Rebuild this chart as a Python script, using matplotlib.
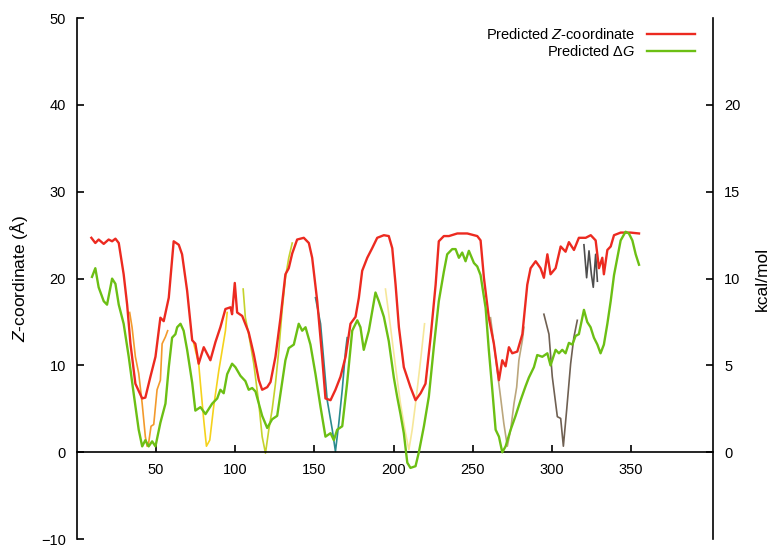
import matplotlib
matplotlib.use('Agg')
import matplotlib.pyplot as plt

plt.rcParams['font.family'] = ['Liberation Sans', 'DejaVu Sans']
plt.rcParams['mathtext.fontset'] = 'custom'
plt.rcParams['mathtext.rm'] = 'Liberation Sans'
plt.rcParams['mathtext.it'] = 'Liberation Sans:italic'

# predicted Z-coordinate along the sequence (Angstrom)
z_res = [9.1, 11.6, 13.7, 16.9, 20.0, 22.2, 24.3, 26.4, 29.5, 31.7, 33.8, 36.9, 41.2, 43.2,
         46.4, 49.6, 52.7, 54.8, 58.0, 61.1, 64.3, 66.4, 69.6, 72.8, 74.8, 76.9, 80.1,
         84.3, 87.5, 90.6, 93.8, 97.0, 98.0, 99.7, 101.2, 104.4, 108.5, 111.7, 114.9,
         117.0, 120.2, 122.3, 125.4, 128.6, 131.7, 133.8, 136.0, 139.1, 143.3, 146.5,
         148.6, 151.8, 154.9, 157.0, 160.2, 163.3, 166.5, 169.7, 172.8, 176.0, 178.1,
         180.2, 183.4, 186.5, 189.7, 193.9, 197.0, 199.2, 201.3, 203.4, 206.5, 210.7,
         213.9, 217.1, 220.2, 223.4, 226.6, 228.6, 231.8, 235.0, 240.3, 246.6, 252.9,
         255.0, 257.1, 260.2, 263.4, 266.6, 268.7, 270.8, 272.9, 275.0, 278.2, 281.4,
         284.5, 286.6, 289.8, 292.9, 295.0, 297.2, 299.2, 302.4, 305.6, 308.7, 310.8,
         314.0, 317.1, 321.4, 324.6, 327.7, 329.8, 331.9, 332.9, 335.1, 337.2, 339.3,
         343.5, 349.8, 355.1]
z_val = [24.7, 24.1, 24.5, 24.0, 24.5, 24.3, 24.6, 24.1, 20.5, 17.0, 12.5, 7.9, 6.2, 6.3,
         8.7, 11.0, 15.5, 15.1, 17.8, 24.3, 23.9, 22.8, 18.6, 12.9, 12.5, 10.2, 12.1,
         10.6, 12.7, 14.4, 16.5, 16.7, 15.9, 19.5, 16.1, 15.7, 13.8, 11.3, 8.3,
         7.2, 7.5, 8.1, 11.0, 15.5, 20.5, 21.2, 22.9, 24.5, 24.7, 24.1,
         22.4, 17.4, 11.0, 6.2, 6.0, 7.2, 8.7, 11.0, 14.8, 15.6, 17.8,
         20.9, 22.4, 23.5, 24.7, 25.0, 24.9, 23.5, 19.3, 14.4, 9.8, 7.5,
         6.0, 6.8, 7.9, 13.2, 19.3, 24.3, 24.9, 24.9, 25.2, 25.2, 24.9,
         24.4, 20.1, 15.5, 12.5, 8.3, 10.6, 9.9, 12.1, 11.4, 11.6, 13.6,
         19.3, 21.2, 22.0, 21.2, 20.1, 22.8, 20.5, 21.2, 23.7, 23.1, 24.2,
         23.3, 24.7, 24.7, 25.0, 24.4, 21.2, 22.4, 20.5, 23.3, 23.7, 25.0,
         25.3, 25.3, 25.2]

# predicted insertion energy (kcal/mol)
dg_res = [9.5, 11.6, 13.7, 16.9, 19.0, 22.2, 24.3, 26.4, 29.5, 32.7, 35.8, 39.0, 41.2, 43.2,
          45.3, 47.5, 49.6, 52.7, 55.9, 58.0, 60.1, 62.2, 63.3, 65.4, 67.4, 69.6, 72.8,
          74.8, 78.0, 81.2, 85.4, 88.6, 90.6, 92.7, 94.9, 98.0, 100.1, 103.3, 106.4,
          108.5, 110.7, 112.8, 114.9, 117.0, 120.2, 123.3, 126.5, 128.6, 131.7, 133.8,
          137.0, 140.1, 142.3, 144.4, 147.5, 150.7, 153.9, 157.0, 160.2, 162.3, 164.4,
          167.6, 170.7, 173.9, 177.1, 179.1, 181.2, 184.4, 188.6, 190.7, 193.9, 197.0,
          200.2, 202.3, 204.4, 206.5, 208.7, 210.7, 213.9, 216.0, 219.2, 222.3, 225.5,
          228.6, 231.8, 233.9, 237.1, 239.2, 241.3, 243.4, 245.5, 247.6, 250.8, 252.9,
          255.0, 258.2, 260.2, 262.4, 264.5, 266.6, 268.7, 270.8, 274.0, 277.1, 280.3,
          283.4, 285.5, 288.7, 290.8, 294.0, 297.2, 299.2, 302.4, 304.5, 306.6, 308.7,
          310.8, 313.0, 315.0, 317.1, 320.3, 322.4, 324.5, 326.6, 328.8, 330.8, 332.9,
          335.1, 337.2, 339.3, 341.4, 343.5, 346.6, 348.7, 350.9, 353.0, 355.1]
dg_val = [10.1, 10.6, 9.5, 8.7, 8.5, 10.0, 9.7, 8.5, 7.4, 5.5, 3.4, 1.3, 0.34, 0.7,
          0.34, 0.63, 0.34, 1.7, 2.8, 4.9, 6.6, 6.8, 7.2, 7.4, 7.0, 5.9, 4.0,
          2.4, 2.6, 2.2, 2.8, 3.1, 3.6, 3.4, 4.5, 5.1, 4.9, 4.4, 4.1,
          3.6, 3.7, 3.5, 2.8, 2.1, 1.4, 1.9, 2.1, 3.4, 5.3, 6.0,
          6.2, 7.4, 7.0, 7.2, 6.2, 4.5, 2.6, 0.9, 1.1, 0.7, 1.3,
          1.5, 4.0, 7.0, 7.6, 7.2, 5.9, 7.0, 9.2, 8.7, 7.8, 6.4,
          4.3, 3.2, 2.2, 1.1, -0.6, -0.9, -0.8, 0.0, 1.5, 3.2, 6.1,
          8.7, 10.4, 11.4, 11.7, 11.7, 11.2, 11.5, 11.0, 11.6, 10.9, 10.7,
          10.2, 8.3, 5.9, 3.6, 1.3, 0.9, 0.0, 0.34, 1.3, 2.1, 3.0,
          3.8, 4.3, 4.9, 5.6, 5.5, 5.7, 5.0, 5.9, 5.7, 5.9, 5.7,
          6.3, 6.2, 6.7, 6.8, 8.2, 7.5, 7.2, 6.6, 6.2, 5.7, 6.2,
          7.4, 8.7, 10.2, 11.2, 12.2, 12.7, 12.6, 12.2, 11.4, 10.8]

# individual helix segments (Angstrom)
seg_colors = ['#f39a2c', '#f5d21c', '#c5d22c', '#2b8b8e', '#f6e79a', '#bba67c', '#6f6052', '#4d4d4d']
seg_res = [
    [33.3, 34.8, 36.9, 39.0, 41.2, 43.2, 44.3, 45.3, 46.8, 48.5, 50.6, 52.7, 53.8, 55.9, 57.3],
    [73.8, 76.9, 78.0, 80.1, 81.8, 83.9, 86.4, 89.6, 91.7, 93.8, 94.9],
    [105.0, 106.4, 108.5, 111.7, 114.9, 117.0, 119.1, 121.2, 123.3, 125.4, 127.5, 129.6, 131.7,
     133.8, 136.0],
    [150.7, 153.9, 158.1, 161.3, 163.3, 165.4, 167.6, 169.7, 170.7],
    [194.9, 198.1, 201.3, 204.4, 207.6, 209.7, 211.8, 213.9, 217.1, 219.6],
    [261.3, 263.4, 265.5, 267.6, 269.7, 271.9, 274.0, 276.1, 277.8, 279.2, 281.4, 282.4],
    [295.0, 298.2, 300.3, 303.5, 305.6, 307.3, 309.4, 311.9, 313.9, 316.1],
    [320.3, 322.0, 323.5, 325.0, 326.2, 327.7, 328.8],
]
seg_val = [
    [16.1, 14.4, 11.0, 9.1, 5.6, 1.8, 0.7, 1.1, 3.0, 3.2, 7.2, 8.3, 12.5, 13.3, 14.0],
    [12.5, 10.2, 7.9, 3.7, 0.7, 1.4, 5.3, 9.4, 11.7, 14.0, 16.1],
    [18.8, 15.5, 13.6, 10.2, 5.6, 1.8, -0.1, 2.6, 4.9, 7.9, 11.7, 16.3, 20.1, 22.4, 24.1],
    [17.8, 14.8, 6.0, 2.6, 0.1, 3.3, 7.2, 11.7, 13.2],
    [18.8, 14.4, 9.8, 5.6, 2.2, 0.3, 2.6, 5.6, 10.6, 14.8],
    [15.5, 12.5, 9.4, 6.4, 3.3, 0.7, 2.6, 5.6, 7.5, 10.6, 12.9, 14.4],
    [15.9, 13.6, 8.7, 4.1, 3.9, 0.7, 4.9, 10.2, 13.2, 15.2],
    [23.9, 20.1, 23.2, 20.5, 19.0, 22.8, 19.7],
]

fig = plt.figure(figsize=(7.72, 5.49), dpi=100)
ax = fig.add_axes([0.0997, 0.018, 0.8242, 0.949])
ax2 = ax.twinx()

for res, val, col in zip(seg_res, seg_val, seg_colors):
    ax.plot(res, val, color=col, lw=1.2, zorder=2)
line_z, = ax.plot(z_res, z_val, color='#ec2a20', lw=1.7, zorder=3,
                  label='Predicted $\\mathit{Z}$-coordinate')
line_g, = ax2.plot(dg_res, dg_val, color='#6cbf14', lw=1.7,
                   label='Predicted Δ$\\mathit{G}$')

ax.set_xlim(0, 402)
ax.set_ylim(-10, 50)
ax2.set_ylim(-5, 25)

ax.spines['top'].set_visible(False)
ax.spines['right'].set_visible(False)
ax.spines['bottom'].set_position(('data', 0))
ax2.spines['top'].set_visible(False)
ax2.spines['left'].set_visible(False)
ax2.spines['bottom'].set_visible(False)
for sp in [ax.spines['left'], ax.spines['bottom'], ax2.spines['right']]:
    sp.set_linewidth(1.2)

ax.set_xticks([50, 100, 150, 200, 250, 300, 350])
ax.set_yticks([-10, 0, 10, 20, 30, 40, 50])
ax2.set_yticks([0, 5, 10, 15, 20])
ax.tick_params(direction='in', length=5, width=1.2, labelsize=10.5, pad=8)
ax2.tick_params(direction='in', length=5, width=1.2, labelsize=10.5, pad=8)

ax.set_ylabel('$\\mathit{Z}$-coordinate (Å)', fontsize=12.5, labelpad=8)
ax2.set_ylabel('kcal/mol', fontsize=12.5, labelpad=10)

ax2.legend(handles=[line_z, line_g], loc='upper right', bbox_to_anchor=(0.985, 1.0),
           frameon=False, markerfirst=False, handlelength=3.3, fontsize=10.5,
           labelspacing=0.15, borderaxespad=0.2)

fig.savefig('out.png', dpi=100)
